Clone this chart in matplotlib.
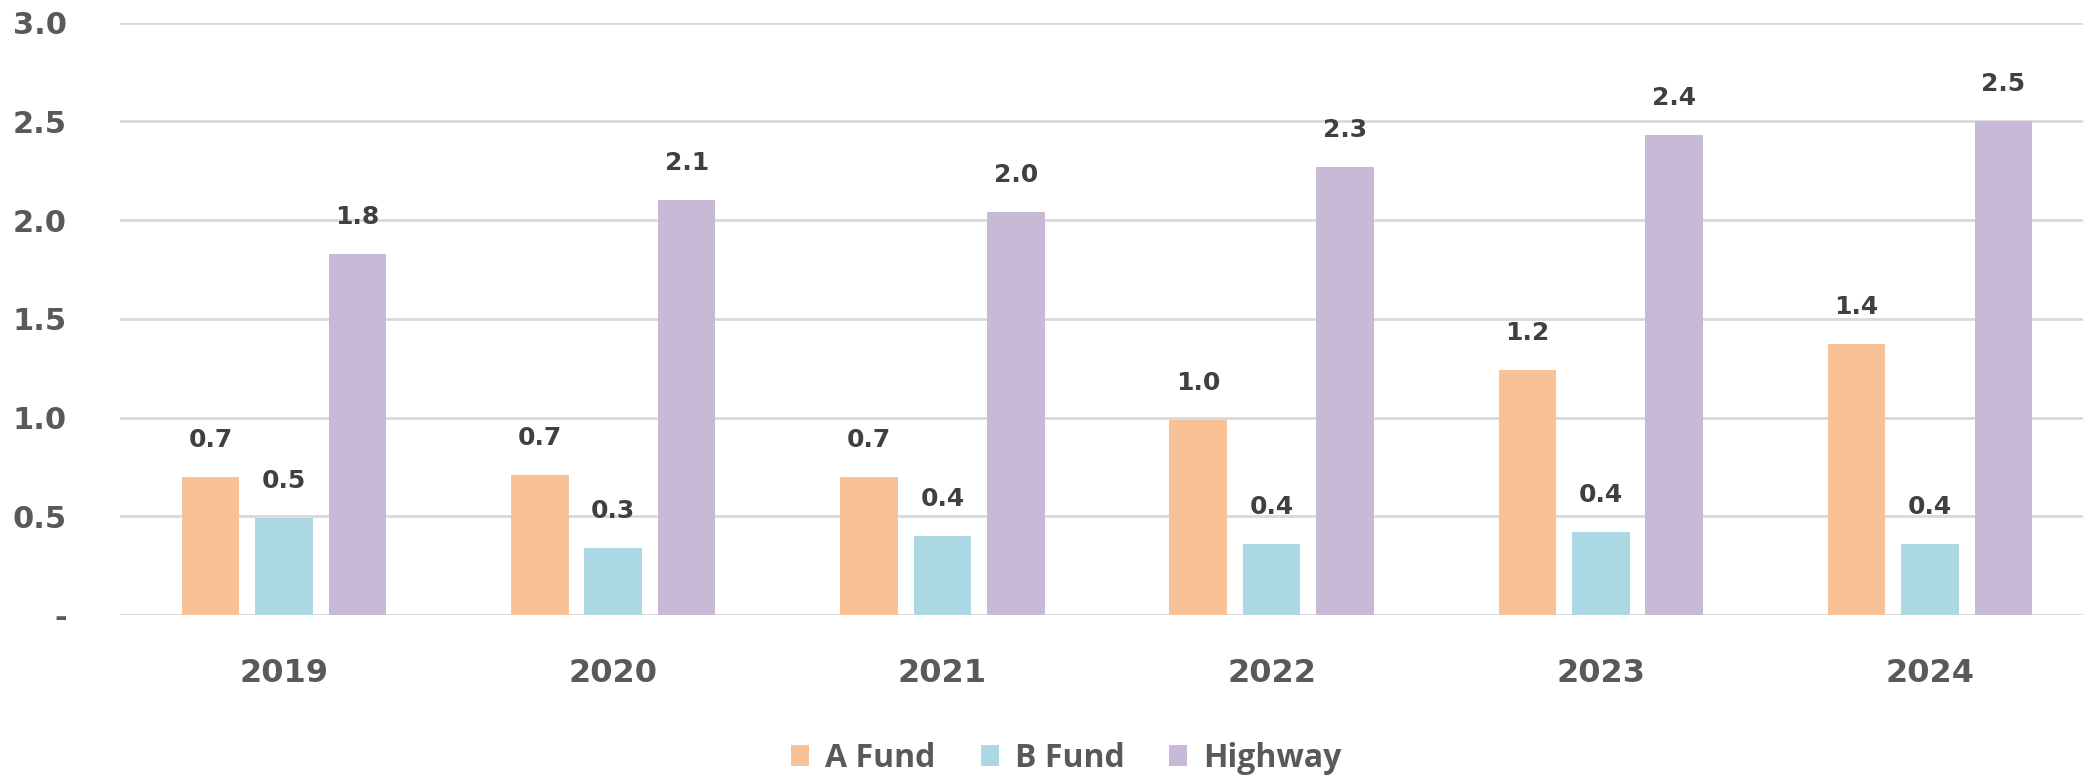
import matplotlib.pyplot as plt
import numpy as np

years = ["2019", "2020", "2021", "2022", "2023", "2024"]
a_fund = [0.70, 0.71, 0.70, 0.99, 1.24, 1.37]
b_fund = [0.49, 0.34, 0.40, 0.36, 0.42, 0.36]
highway = [1.83, 2.10, 2.04, 2.27, 2.43, 2.50]
series_names = ["A Fund", "B Fund", "Highway"]
colors = ["#F8C196", "#ABD8E3", "#C8B9D7"]

fig = plt.figure(figsize=(20.83, 7.8), dpi=100)
ax = fig.add_axes([119.5/2083, 1-615/780, 1975/2083, (615-22.6)/780])

x = np.arange(len(years))
w = 0.175
step = 0.223
for i, (vals, name, c) in enumerate(zip([a_fund, b_fund, highway], series_names, colors)):
    pos = x + (i-1)*step
    ax.bar(pos, vals, width=w, color=c, label=name, zorder=3)
    for p, v in zip(pos, vals):
        ax.annotate(f"{v:.1f}", (p, v), xytext=(0, 18), textcoords="offset points",
                    ha="center", va="bottom", fontsize=18, fontweight="bold", color="#404040")

ax.set_xlim(-0.5, len(years)-0.5)
ax.set_ylim(0, 3.0)
ticks = np.arange(0, 3.01, 0.5)
ax.set_yticks(ticks)
ax.set_yticklabels(["-" if t == 0 else f"{t:.1f}" for t in ticks])
ax.set_xticks(x)
ax.set_xticklabels(years)
ax.grid(axis="y", color="#D9D9D9", linewidth=2, zorder=0)
for s in ax.spines.values():
    s.set_visible(False)
ax.tick_params(axis="both", length=0, colors="#595959")
ax.tick_params(axis="y", pad=38, labelsize=22)
ax.tick_params(axis="x", pad=31, labelsize=23)
for lbl in ax.get_xticklabels() + ax.get_yticklabels():
    lbl.set_fontweight("bold")
    lbl.set_color("#595959")

fig.legend(loc="center", bbox_to_anchor=(0.512, 0.028), ncol=3, frameon=False,
           handlelength=0.57, handleheight=0.62, columnspacing=1.4, handletextpad=0.5,
           prop={"family": "Open Sans", "weight": "bold", "size": 23}, labelcolor="#595959")

fig.savefig("out.png", dpi=100)
